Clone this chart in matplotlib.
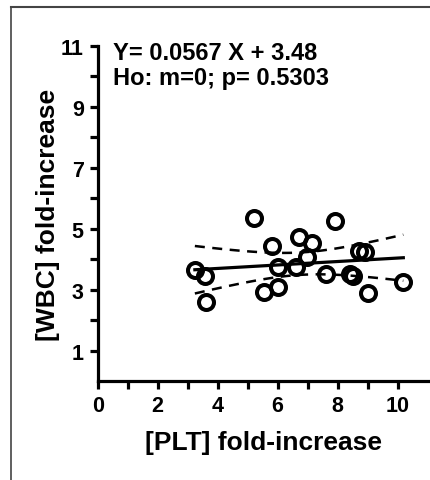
import numpy as np
import matplotlib
matplotlib.use('Agg')
import matplotlib.pyplot as plt
from matplotlib.lines import Line2D

# [PLT] fold-increase vs [WBC] fold-increase
plt_fold = [3.24, 3.58, 3.60, 5.21, 5.80, 5.55, 6.00, 6.00, 6.60, 6.71,
            7.13, 6.97, 7.61, 7.91, 8.41, 8.52, 8.72, 8.91, 9.00, 10.19]
wbc_fold = [3.67, 3.45, 2.60, 5.35, 4.43, 2.94, 3.09, 3.74, 3.74, 4.75,
            4.53, 4.09, 3.52, 5.25, 3.52, 3.45, 4.29, 4.26, 2.89, 3.27]
slope = 0.0567
intercept = 3.48
p_value = 0.5303

plt.rcParams['font.family'] = ['Liberation Sans', 'DejaVu Sans']
plt.rcParams['font.weight'] = 'bold'

fig = plt.figure(figsize=(4.3, 4.81), dpi=100)
ax = fig.add_axes([0.2272, 0.2048, 0.7728, 0.6975])

x = np.array(plt_fold)
y = np.array(wbc_fold)
n = len(x)
# 95% confidence band of the regression line
resid = y - (slope * x + intercept)
s = np.sqrt(np.sum(resid ** 2) / (n - 2))
t = 2.101
xs = np.linspace(x.min(), x.max(), 100)
ys = slope * xs + intercept
se = s * np.sqrt(1.0 / n + (xs - x.mean()) ** 2 / np.sum((x - x.mean()) ** 2))

ax.plot(xs, ys, color='black', lw=2.3, zorder=2)
ax.plot(xs, ys + t * se, color='black', lw=1.8, ls=(0, (4, 3)), zorder=2)
ax.plot(xs, ys - t * se, color='black', lw=1.8, ls=(0, (4, 3)), zorder=2)
ax.plot(x, y, 'o', ms=10.8, mfc='none', mec='black', mew=2.9, zorder=3)

ax.set_xlim(0, 11.08)
ax.set_ylim(0, 11)
ax.set_xticks([0, 2, 4, 6, 8, 10])
ax.set_xticks([1, 3, 5, 7, 9], minor=True)
ax.set_yticks([1, 3, 5, 7, 9, 11])
ax.set_yticks([2, 4, 6, 8, 10], minor=True)
ax.spines['top'].set_visible(False)
ax.spines['right'].set_visible(False)
for sp in ['left', 'bottom']:
    ax.spines[sp].set_linewidth(2.3)
ax.tick_params(which='both', length=6, width=2.3, labelsize=15.5, pad=4)
for lab in ax.get_xticklabels() + ax.get_yticklabels():
    lab.set_fontweight('bold')

ax.set_xlabel('[PLT] fold-increase', fontsize=19, fontweight='bold', labelpad=10)
ax.set_ylabel('[WBC] fold-increase', fontsize=19, fontweight='bold', labelpad=1)

fig.text(113 / 430, 1 - 60 / 481, 'Y= %.4f X + %.2f' % (slope, intercept),
         fontsize=17, fontweight='bold', va='baseline')
fig.text(113 / 430, 1 - 85 / 481, 'Ho: m=0; p= %.4f' % p_value,
         fontsize=17, fontweight='bold', va='baseline')

# frame lines of the original scan
fig.add_artist(Line2D([11 / 430, 1], [1 - 8 / 481, 1 - 8 / 481], color='#444444', lw=1.5))
fig.add_artist(Line2D([11 / 430, 11 / 430], [0, 1 - 8 / 481], color='#444444', lw=1.2))

fig.savefig('out.png', dpi=100)
